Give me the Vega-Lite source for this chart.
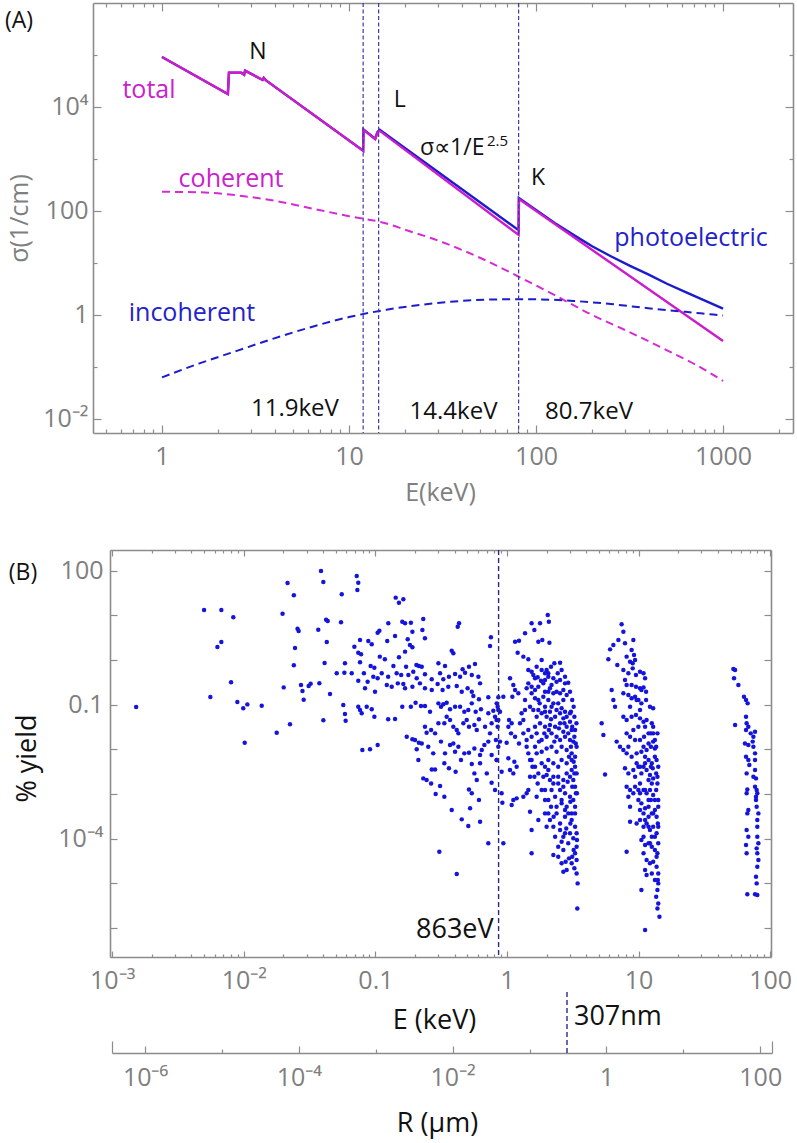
{
  "$schema": "https://vega.github.io/schema/vega-lite/v6.json",
  "width": 700,
  "height": 954,
  "autosize": "none",
  "padding": {"left": 93, "top": 3, "right": 4, "bottom": 186},
  "background": "white",
  "config": {
    "view": {"stroke": null},
    "font": "Open Sans",
    "text": {"font": "Open Sans"},
    "axis": {"domainColor": "#8c8c8c", "domainWidth": 1.6, "tickColor": "#8c8c8c", "tickWidth": 1.2, "labelColor": "#7f7f7f", "labelFont": "Open Sans", "labelFontSize": 25, "titleFont": "Open Sans", "titleFontWeight": "normal", "grid": false, "labelOverlap": false, "labelFlush": false, "labelBound": false}
  },
  "datasets": {
    "curves": [
      {"s":"photoelectric","E":1,"v":91200},{"s":"photoelectric","E":2.25,"v":17800},{"s":"photoelectric","E":2.28,"v":45700},{"s":"photoelectric","E":2.65,"v":45700},{"s":"photoelectric","E":2.75,"v":41700},{"s":"photoelectric","E":2.78,"v":50100},{"s":"photoelectric","E":3.45,"v":33100},{"s":"photoelectric","E":3.5,"v":36300},{"s":"photoelectric","E":3.6,"v":32400},{"s":"photoelectric","E":11.9,"v":1445},{"s":"photoelectric","E":11.95,"v":3715},{"s":"photoelectric","E":13.8,"v":2455},{"s":"photoelectric","E":14.2,"v":3311},{"s":"photoelectric","E":14.6,"v":3631},{"s":"photoelectric","E":80.7,"v":42.7},{"s":"photoelectric","E":81,"v":178},{"s":"photoelectric","E":125.9,"v":58.9},{"s":"photoelectric","E":158.5,"v":34.7},{"s":"photoelectric","E":199.5,"v":20.9},{"s":"photoelectric","E":251.2,"v":13.5},{"s":"photoelectric","E":316.2,"v":8.91},{"s":"photoelectric","E":398.1,"v":6.03},{"s":"photoelectric","E":501.2,"v":3.98},{"s":"photoelectric","E":631,"v":2.75},{"s":"photoelectric","E":794.3,"v":1.91},{"s":"photoelectric","E":1000,"v":1.32},
      {"s":"total","E":1,"v":91200},{"s":"total","E":2.25,"v":17800},{"s":"total","E":2.28,"v":45700},{"s":"total","E":2.65,"v":45700},{"s":"total","E":2.75,"v":41700},{"s":"total","E":2.78,"v":50100},{"s":"total","E":3.45,"v":33100},{"s":"total","E":3.5,"v":36300},{"s":"total","E":3.6,"v":32400},{"s":"total","E":11.9,"v":1445},{"s":"total","E":11.95,"v":3631},{"s":"total","E":13.8,"v":2399},{"s":"total","E":14.2,"v":3236},{"s":"total","E":14.6,"v":3467},{"s":"total","E":80.7,"v":34.7},{"s":"total","E":81,"v":170},{"s":"total","E":1000,"v":0.316},
      {"s":"coherent","E":1,"v":234},{"s":"coherent","E":1.585,"v":229},{"s":"coherent","E":2.512,"v":200},{"s":"coherent","E":3.981,"v":158},{"s":"coherent","E":6.31,"v":112},{"s":"coherent","E":10,"v":79.4},{"s":"coherent","E":15.85,"v":57.5},{"s":"coherent","E":19.95,"v":43.7},{"s":"coherent","E":31.62,"v":25.1},{"s":"coherent","E":50.12,"v":12.6},{"s":"coherent","E":79.43,"v":5.62},{"s":"coherent","E":125.9,"v":2.4},{"s":"coherent","E":199.5,"v":1.0},{"s":"coherent","E":316.2,"v":0.468},{"s":"coherent","E":501.2,"v":0.209},{"s":"coherent","E":794.3,"v":0.0891},{"s":"coherent","E":1000,"v":0.0537},
      {"s":"incoherent","E":1,"v":0.0631},{"s":"incoherent","E":1.585,"v":0.117},{"s":"incoherent","E":2.512,"v":0.204},{"s":"incoherent","E":3.981,"v":0.355},{"s":"incoherent","E":6.31,"v":0.589},{"s":"incoherent","E":10,"v":0.912},{"s":"incoherent","E":15.85,"v":1.26},{"s":"incoherent","E":25.12,"v":1.585},{"s":"incoherent","E":39.81,"v":1.862},{"s":"incoherent","E":63.1,"v":1.995},{"s":"incoherent","E":100,"v":1.995},{"s":"incoherent","E":158.5,"v":1.862},{"s":"incoherent","E":251.2,"v":1.622},{"s":"incoherent","E":398.1,"v":1.349},{"s":"incoherent","E":631,"v":1.148},{"s":"incoherent","E":1000,"v":0.977}
    ],
    "edges": [{"E": 11.9}, {"E": 14.4}, {"E": 80.7}],
    "notesA": [
      {"t":"N","E":3.26,"v":114000,"k":"edge"},
      {"t":"L","E":18.7,"v":13700,"k":"edge"},
      {"t":"K","E":102.5,"v":431,"k":"edge"},
      {"t":"11.9keV","E":5.14,"v":0.01556,"k":"energy"},
      {"t":"14.4keV","E":36.2,"v":0.01364,"k":"energy"},
      {"t":"80.7keV","E":192,"v":0.01364,"k":"energy"},
      {"t":"total","E":0.852,"v":21200,"k":"magenta"},
      {"t":"coherent","E":2.34,"v":412,"k":"magenta"},
      {"t":"photoelectric","E":674,"v":30.3,"k":"blue"},
      {"t":"incoherent","E":1.447,"v":1.093,"k":"blue"},
      {"t":"σ∝1/E","E":23.97,"v":1622,"k":"formula"},
      {"t":"2.5","E":54.7,"v":2218,"k":"exponent"},
      {"t":"(A)","E":0.172,"v":450000,"k":"panel"}
    ],
    "yieldData": [
      {"E":0.00152,"y":0.0887},{"E":0.00499,"y":13.2},{"E":0.00675,"y":13.2},{"E":0.00832,"y":9.02},{"E":0.0063,"y":1.95},{"E":0.00675,"y":2.53},{"E":0.00557,"y":0.149},{"E":0.008,"y":0.316},{"E":0.00893,"y":0.115},{"E":0.0099,"y":0.0828},{"E":0.01064,"y":0.1016},{"E":0.01368,"y":0.0951},{"E":0.01016,"y":0.0141},{"E":0.01778,"y":0.0236},{"E":0.02244,"y":0.0363},{"E":0.0201,"y":0.244},{"E":0.0197,"y":10.9},{"E":0.0215,"y":53.0},{"E":0.024,"y":28.1},{"E":0.0256,"y":5.02},{"E":0.0261,"y":4.46},{"E":0.0245,"y":1.86},{"E":0.024,"y":0.76},{"E":0.0272,"y":0.275},{"E":0.0279,"y":0.202},{"E":0.0285,"y":0.129},{"E":0.0311,"y":0.262},{"E":0.0322,"y":0.295},{"E":0.0375,"y":0.301},{"E":0.0386,"y":98.4},{"E":0.0402,"y":55.7},{"E":0.0368,"y":4.78},{"E":0.0402,"y":0.0446},{"E":0.0411,"y":0.857},{"E":0.0422,"y":8.0},{"E":0.0427,"y":2.53},
      {"E":0.0721,"y":76.0},{"E":0.0741,"y":53.9},{"E":0.0729,"y":36.9},{"E":0.0555,"y":29.5},{"E":0.1426,"y":24.9},{"E":0.151,"y":19.2},{"E":0.163,"y":22.8},{"E":0.0434,"y":7.47},{"E":0.0548,"y":6.97},{"E":0.1253,"y":6.62},{"E":0.16,"y":7.21},{"E":0.168,"y":6.62},{"E":0.186,"y":6.85},{"E":0.231,"y":8.28},{"E":0.432,"y":6.62},{"E":0.422,"y":5.57},{"E":0.1072,"y":4.54},{"E":0.104,"y":4.09},{"E":0.141,"y":3.45},{"E":0.191,"y":4.31},{"E":0.2275,"y":4.7},{"E":0.238,"y":3.06},{"E":0.0764,"y":2.8},{"E":0.0883,"y":2.66},{"E":0.0938,"y":2.24},{"E":0.123,"y":2.66},{"E":0.176,"y":2.9},{"E":0.183,"y":2.17},{"E":0.191,"y":1.92},{"E":0.755,"y":3.22},{"E":0.743,"y":2.06},{"E":0.0692,"y":1.99},{"E":0.0741,"y":1.46},{"E":0.0778,"y":1.34},{"E":0.38,"y":1.62},{"E":0.391,"y":1.41},{"E":0.168,"y":1.54},{"E":0.108,"y":1.19},{"E":0.118,"y":1.04},{"E":0.151,"y":1.15},{"E":0.137,"y":0.734},{"E":0.205,"y":0.773},{"E":0.214,"y":0.734},{"E":0.225,"y":0.709},{"E":0.301,"y":0.842},{"E":0.338,"y":0.734},{"E":0.46,"y":0.618},{"E":0.514,"y":0.709},{"E":0.571,"y":0.813},{"E":0.0587,"y":0.842},{"E":0.0508,"y":0.503},{"E":0.0581,"y":0.52},{"E":0.0661,"y":0.503},{"E":0.0764,"y":0.887},{"E":0.092,"y":0.734},{"E":0.0982,"y":0.673},{"E":0.0818,"y":0.503},{"E":0.0964,"y":0.424},{"E":0.104,"y":0.389},{"E":0.0873,"y":0.327},{"E":0.1117,"y":0.503},{"E":0.125,"y":0.424},{"E":0.145,"y":0.503},{"E":0.157,"y":0.461},{"E":0.171,"y":0.709},{"E":0.178,"y":0.461},{"E":0.194,"y":0.548},{"E":0.206,"y":0.389},{"E":0.238,"y":0.478},{"E":0.268,"y":0.369},{"E":0.31,"y":0.503},{"E":0.328,"y":0.369},{"E":0.362,"y":0.424},{"E":0.403,"y":0.486},{"E":0.44,"y":0.424},{"E":0.48,"y":0.52},{"E":0.54,"y":0.461},{"E":0.606,"y":0.424},{"E":0.624,"y":0.3},{"E":0.0452,"y":0.173},{"E":0.0741,"y":0.344},{"E":0.0834,"y":0.232},{"E":0.0993,"y":0.195},{"E":0.122,"y":0.275},{"E":0.133,"y":0.253},{"E":0.148,"y":0.3},{"E":0.163,"y":0.29},{"E":0.168,"y":0.232},{"E":0.191,"y":0.253},{"E":0.218,"y":0.3},{"E":0.238,"y":0.232},{"E":0.268,"y":0.213},{"E":0.297,"y":0.29},{"E":0.324,"y":0.213},{"E":0.358,"y":0.253},{"E":0.415,"y":0.262},{"E":0.453,"y":0.195},{"E":0.502,"y":0.232},{"E":0.54,"y":0.195},{"E":0.555,"y":0.156},{"E":0.612,"y":0.132},{"E":0.721,"y":0.146},{"E":0.859,"y":0.146},{"E":0.057,"y":0.0984},{"E":0.0587,"y":0.0618},{"E":0.0594,"y":0.0438},{"E":0.0741,"y":0.0902},{"E":0.0764,"y":0.076},{"E":0.0787,"y":0.064},{"E":0.0859,"y":0.0902},{"E":0.0938,"y":0.0787},{"E":0.0982,"y":0.0538},{"E":0.125,"y":0.047},{"E":0.141,"y":0.0478},{"E":0.16,"y":0.0902},{"E":0.186,"y":0.0902},{"E":0.202,"y":0.111},{"E":0.222,"y":0.0933},{"E":0.238,"y":0.0933},{"E":0.26,"y":0.0697},{"E":0.301,"y":0.107},{"E":0.315,"y":0.0902},{"E":0.328,"y":0.102},{"E":0.348,"y":0.111},{"E":0.369,"y":0.0787},{"E":0.403,"y":0.0902},{"E":0.44,"y":0.0902},{"E":0.474,"y":0.0697},{"E":0.508,"y":0.076},{"E":0.54,"y":0.107},{"E":0.578,"y":0.0697},{"E":0.634,"y":0.0787},{"E":0.721,"y":0.064},{"E":0.787,"y":0.0734},{"E":0.849,"y":0.0902},{"E":0.885,"y":0.0697},{"E":0.173,"y":0.0192},{"E":0.191,"y":0.0168},{"E":0.2,"y":0.0162},{"E":0.214,"y":0.0141},{"E":0.238,"y":0.0321},{"E":0.245,"y":0.0236},{"E":0.265,"y":0.0271},{"E":0.284,"y":0.0228},{"E":0.301,"y":0.0382},{"E":0.334,"y":0.0382},{"E":0.348,"y":0.0538},{"E":0.369,"y":0.0454},{"E":0.391,"y":0.0321},{"E":0.415,"y":0.0271},{"E":0.427,"y":0.0228},{"E":0.466,"y":0.0382},{"E":0.494,"y":0.0454},{"E":0.514,"y":0.0321},{"E":0.565,"y":0.0351},{"E":0.589,"y":0.0271},{"E":0.612,"y":0.047},{"E":0.681,"y":0.0321},{"E":0.743,"y":0.0228},{"E":0.764,"y":0.0382},{"E":0.834,"y":0.0454},{"E":0.0796,"y":0.00966},{"E":0.091,"y":0.01},{"E":0.104,"y":0.0125},{"E":0.206,"y":0.01},{"E":0.212,"y":0.00577},{"E":0.225,"y":0.0136},{"E":0.252,"y":0.0115},{"E":0.275,"y":0.00813},{"E":0.315,"y":0.0149},{"E":0.338,"y":0.00813},{"E":0.369,"y":0.0125},{"E":0.391,"y":0.0136},{"E":0.403,"y":0.00887},{"E":0.427,"y":0.0115},{"E":0.447,"y":0.00577},{"E":0.474,"y":0.00813},{"E":0.514,"y":0.00841},{"E":0.565,"y":0.0105},{"E":0.624,"y":0.00746},{"E":0.673,"y":0.0125},{"E":0.721,"y":0.0149},{"E":0.764,"y":0.00746},{"E":0.834,"y":0.00577},{"E":0.231,"y":0.00224},{"E":0.245,"y":0.00206},{"E":0.268,"y":0.00356},{"E":0.284,"y":0.00356},{"E":0.265,"y":0.00173},{"E":0.31,"y":0.00151},{"E":0.334,"y":0.00486},{"E":0.362,"y":0.00376},{"E":0.407,"y":0.00316},{"E":0.54,"y":0.0047},{"E":0.565,"y":0.0029},{"E":0.589,"y":0.00206},{"E":0.624,"y":0.00486},{"E":0.643,"y":0.00966},{"E":0.702,"y":0.0029},{"E":0.764,"y":0.00179},{"E":0.811,"y":0.00123},{"E":0.287,"y":0.001},{"E":0.334,"y":0.000871},{"E":0.38,"y":0.000439},{"E":0.453,"y":0.000271},{"E":0.514,"y":0.00127},{"E":0.54,"y":0.00104},{"E":0.524,"y":0.000478},{"E":0.612,"y":0.000734},{"E":0.624,"y":0.00024},{"E":0.508,"y":0.000192},{"E":0.721,"y":0.0000787},{"E":0.306,"y":0.0000512},{"E":0.415,"y":0.0000162},
      {"E":0.835,"y":0.107},{"E":0.859,"y":0.076},{"E":0.811,"y":0.0538},{"E":0.859,"y":0.0454},{"E":0.849,"y":0.0321},{"E":0.824,"y":0.0162},{"E":0.885,"y":0.0149},{"E":0.859,"y":0.0115},{"E":0.835,"y":0.00577},{"E":0.938,"y":0.151},{"E":0.91,"y":0.00316},{"E":0.91,"y":0.00104},{"E":0.922,"y":0.00064},{"E":1.054,"y":0.389},{"E":1.117,"y":0.275},{"E":1.151,"y":0.213},{"E":1.098,"y":0.151},{"E":1.219,"y":0.18},{"E":1.036,"y":0.0454},{"E":1.085,"y":0.0382},{"E":1.024,"y":0.0321},{"E":1.073,"y":0.0228},{"E":0.994,"y":0.0141},{"E":1.151,"y":0.0192},{"E":1.233,"y":0.0136},{"E":1.256,"y":0.0382},{"E":1.291,"y":0.064},{"E":1.371,"y":0.076},{"E":1.496,"y":0.0902},{"E":1.024,"y":0.00629},{"E":1.054,"y":0.00345},{"E":1.117,"y":0.0029},{"E":1.137,"y":0.0053},{"E":1.184,"y":0.00409},{"E":1.085,"y":0.000567},{"E":1.117,"y":0.000734},{"E":1.184,"y":0.0008},{"E":1.331,"y":0.000871},{"E":1.41,"y":0.00104},{"E":1.452,"y":0.00123},{"E":1.496,"y":0.00244},{"E":0.938,"y":0.0000787},{"E":1.151,"y":2.57},{"E":1.233,"y":2.71},{"E":1.205,"y":1.46},{"E":1.331,"y":1.19},{"E":1.452,"y":1.04},{"E":1.371,"y":3.95},{"E":1.538,"y":6.62},{"E":1.614,"y":4.7},{"E":1.73,"y":2.57},{"E":1.782,"y":6.62},{"E":1.854,"y":2.8},{"E":2.04,"y":10.2},{"E":2.08,"y":7.21},{"E":2.1,"y":2.44},{"E":1.452,"y":0.597},{"E":1.538,"y":0.548},{"E":1.68,"y":0.709},{"E":1.834,"y":0.597},{"E":1.945,"y":0.503},{"E":2.06,"y":0.503},{"E":2.16,"y":0.709},{"E":2.29,"y":0.842},{"E":2.53,"y":0.871},{"E":2.25,"y":0.389},{"E":2.38,"y":0.327},{"E":2.53,"y":0.356},{"E":2.76,"y":0.3},{"E":2.92,"y":0.311},{"E":1.452,"y":0.3},{"E":1.538,"y":0.253},{"E":1.633,"y":0.213},{"E":1.73,"y":0.253},{"E":1.888,"y":0.3},{"E":1.945,"y":0.195},{"E":2.12,"y":0.232},{"E":2.25,"y":0.18},{"E":2.38,"y":0.195},{"E":2.53,"y":0.18},{"E":2.68,"y":0.127},{"E":2.45,"y":0.107},{"E":2.25,"y":0.107},{"E":2.06,"y":0.127},{"E":1.888,"y":0.151},{"E":1.73,"y":0.127},{"E":1.585,"y":0.076},{"E":1.68,"y":0.0538},{"E":1.834,"y":0.064},{"E":2.0,"y":0.0538},{"E":2.12,"y":0.0697},{"E":2.32,"y":0.0538},{"E":2.53,"y":0.064},{"E":2.68,"y":0.0494},{"E":2.84,"y":0.0538},{"E":3.01,"y":0.0416},{"E":2.53,"y":0.0382},{"E":2.32,"y":0.0321},{"E":2.12,"y":0.0351},{"E":1.945,"y":0.0321},{"E":1.782,"y":0.0382},{"E":1.633,"y":0.0321},{"E":1.538,"y":0.0192},{"E":1.68,"y":0.0228},{"E":1.834,"y":0.0162},{"E":2.0,"y":0.0192},{"E":2.18,"y":0.0228},{"E":2.38,"y":0.0192},{"E":2.53,"y":0.0162},{"E":2.76,"y":0.0192},{"E":3.01,"y":0.0162},{"E":3.19,"y":0.0149},{"E":2.6,"y":0.0115},{"E":2.84,"y":0.00966},{"E":3.1,"y":0.00813},{"E":3.29,"y":0.00686},{"E":2.38,"y":0.00887},{"E":2.18,"y":0.0115},{"E":2.0,"y":0.0105},{"E":1.834,"y":0.00887},{"E":1.68,"y":0.00813},{"E":1.834,"y":0.00486},{"E":1.945,"y":0.00409},{"E":2.06,"y":0.00577},{"E":2.25,"y":0.00486},{"E":2.45,"y":0.00409},{"E":2.6,"y":0.00577},{"E":2.84,"y":0.00486},{"E":3.1,"y":0.00577},{"E":3.29,"y":0.00409},{"E":2.0,"y":0.00266},{"E":2.12,"y":0.00206},{"E":2.25,"y":0.00244},{"E":2.45,"y":0.00173},{"E":2.68,"y":0.00206},{"E":2.84,"y":0.0029},{"E":3.01,"y":0.00244},{"E":3.19,"y":0.00206},{"E":3.29,"y":0.00146},{"E":2.53,"y":0.00123},{"E":2.76,"y":0.00104},{"E":3.01,"y":0.000871},{"E":3.19,"y":0.000734},{"E":3.29,"y":0.00052},{"E":2.18,"y":0.00123},{"E":2.32,"y":0.000871},{"E":2.06,"y":0.000369},{"E":2.12,"y":0.000262},{"E":2.25,"y":0.000186},{"E":2.53,"y":0.00022},{"E":2.76,"y":0.000311},{"E":2.92,"y":0.000369},{"E":3.1,"y":0.000262},{"E":3.29,"y":0.000186},{"E":3.38,"y":0.000132},{"E":3.19,"y":0.000102},{"E":2.92,"y":0.0000787},{"E":2.68,"y":0.0000557},{"E":2.45,"y":0.0000395},{"E":2.6,"y":0.0000281},{"E":2.68,"y":0.0000182},{"E":2.84,"y":0.0000199},{"E":3.1,"y":0.0000281},{"E":3.29,"y":0.000047},{"E":3.38,"y":0.0000333},{"E":3.38,"y":0.0000167},{"E":3.44,"y":0.00001},{"E":3.42,"y":0.00000275},{"E":1.496,"y":0.000402},{"E":1.538,"y":0.000156},{"E":1.538,"y":0.000047},{"E":1.73,"y":0.000262},{"E":1.945,"y":0.000369},{"E":2.0,"y":0.000186},{"E":2.25,"y":0.0000431},{"E":1.68,"y":0.000871},{"E":5.24,"y":0.0382},{"E":5.4,"y":0.0209},{"E":5.56,"y":0.00275},
      {"E":3.29,"y":0.0271},{"E":3.33,"y":0.0136},{"E":3.25,"y":0.0029},{"E":3.34,"y":0.00104},{"E":3.1,"y":0.000369},{"E":3.38,"y":0.0000662},{"E":3.13,"y":0.0000395},{"E":3.01,"y":0.000132},{"E":2.76,"y":0.000132},{"E":2.6,"y":0.0000857},{"E":2.38,"y":0.00052},{"E":2.6,"y":0.000618},{"E":2.84,"y":0.00052},{"E":2.06,"y":0.000734},{"E":1.945,"y":0.00123},{"E":1.888,"y":0.00244},{"E":1.73,"y":0.0029},{"E":1.633,"y":0.00409},{"E":1.496,"y":0.00577},{"E":1.41,"y":0.0115},{"E":1.331,"y":0.0228},{"E":1.452,"y":0.0271},{"E":1.73,"y":0.076},{"E":1.945,"y":0.0902},{"E":2.18,"y":0.0902},{"E":2.38,"y":0.076},{"E":2.6,"y":0.0828},{"E":2.76,"y":0.0697},{"E":3.01,"y":0.064},{"E":3.1,"y":0.0271},{"E":2.84,"y":0.0321},{"E":2.68,"y":0.0249},{"E":2.06,"y":0.424},{"E":1.945,"y":0.356},{"E":1.834,"y":1.0},{"E":1.633,"y":0.389},{"E":2.68,"y":0.213},{"E":2.84,"y":0.164},{"E":2.06,"y":0.195},
      {"E":1.585,"y":0.461},{"E":1.71,"y":0.409},{"E":1.812,"y":0.344},{"E":2.0,"y":0.597},{"E":2.18,"y":0.275},{"E":2.43,"y":0.503},{"E":2.6,"y":0.597},{"E":2.76,"y":0.424},{"E":3.01,"y":0.195},{"E":3.13,"y":0.127},{"E":3.21,"y":0.0902},{"E":3.06,"y":0.0697},{"E":3.25,"y":0.0538},{"E":3.37,"y":0.0382},{"E":3.13,"y":0.0321},{"E":2.92,"y":0.0228},{"E":3.25,"y":0.0192},{"E":3.38,"y":0.0115},{"E":3.06,"y":0.0115},{"E":2.96,"y":0.00686},{"E":3.21,"y":0.0053},{"E":3.38,"y":0.0029},{"E":3.1,"y":0.00345},{"E":2.89,"y":0.00189},{"E":3.13,"y":0.00146},{"E":3.4,"y":0.00104},{"E":3.03,"y":0.000673},{"E":3.29,"y":0.000369},{"E":3.03,"y":0.00022},{"E":2.82,"y":0.00017},{"E":3.4,"y":0.0000933},{"E":3.21,"y":0.0000557},{"E":2.96,"y":0.0000363},{"E":3.25,"y":0.0000217},{"E":2.79,"y":0.0000305},{"E":2.45,"y":0.0000662},{"E":2.32,"y":0.000111},{"E":2.16,"y":0.00052},{"E":2.26,"y":0.000311},{"E":1.945,"y":0.000734},{"E":1.834,"y":0.00123},{"E":1.71,"y":0.00173},{"E":1.614,"y":0.00244},{"E":1.56,"y":0.00409},{"E":1.633,"y":0.0115},{"E":1.75,"y":0.0149},{"E":1.921,"y":0.0228},{"E":2.08,"y":0.0271},{"E":2.29,"y":0.0149},{"E":2.48,"y":0.0295},{"E":2.73,"y":0.0382},{"E":2.16,"y":0.047},{"E":1.945,"y":0.0697},{"E":1.771,"y":0.107},{"E":1.633,"y":0.139},{"E":1.538,"y":0.18},{"E":1.41,"y":0.232},{"E":1.371,"y":0.127},{"E":1.331,"y":0.0454},{"E":1.41,"y":0.0162},{"E":1.452,"y":0.00813},{"E":1.538,"y":0.00577},{"E":2.06,"y":0.00345},{"E":2.25,"y":0.00173},{"E":2.45,"y":0.00244},{"E":2.68,"y":0.00146},{"E":2.6,"y":0.000734},{"E":2.38,"y":0.000369},{"E":2.76,"y":0.000439},{"E":2.53,"y":0.000156},{"E":2.68,"y":0.000111},
      {"E":7.43,"y":6.29},{"E":7.66,"y":4.31},{"E":9.12,"y":2.8},{"E":7.88,"y":2.36},{"E":8.85,"y":1.67},{"E":9.23,"y":1.29},{"E":8.11,"y":1.19},{"E":8.61,"y":0.918},{"E":9.02,"y":0.842},{"E":9.4,"y":1.0},{"E":7.66,"y":0.597},{"E":8.36,"y":0.503},{"E":9.02,"y":0.65},{"E":9.55,"y":0.461},{"E":10.25,"y":0.548},{"E":10.9,"y":0.503},{"E":11.2,"y":0.389},{"E":7.88,"y":0.356},{"E":8.11,"y":0.275},{"E":8.85,"y":0.275},{"E":9.55,"y":0.253},{"E":10.25,"y":0.232},{"E":10.9,"y":0.244},{"E":11.4,"y":0.195},{"E":7.66,"y":0.18},{"E":8.36,"y":0.164},{"E":8.85,"y":0.139},{"E":9.4,"y":0.151},{"E":9.96,"y":0.127},{"E":10.5,"y":0.107},{"E":11.4,"y":0.127},{"E":12.2,"y":0.0902},{"E":12.9,"y":0.0828},{"E":7.66,"y":0.0538},{"E":8.11,"y":0.0454},{"E":8.85,"y":0.0538},{"E":9.55,"y":0.0587},{"E":10.25,"y":0.0494},{"E":10.9,"y":0.0416},{"E":11.5,"y":0.0454},{"E":12.6,"y":0.0382},{"E":12.9,"y":0.0321},{"E":8.11,"y":0.0228},{"E":8.61,"y":0.0192},{"E":9.4,"y":0.0162},{"E":10.25,"y":0.0162},{"E":11.0,"y":0.0192},{"E":11.9,"y":0.0136},{"E":12.9,"y":0.0149},{"E":13.3,"y":0.0105},{"E":7.22,"y":0.0115},{"E":7.66,"y":0.00966},{"E":8.11,"y":0.00813},{"E":8.85,"y":0.00686},{"E":9.66,"y":0.00813},{"E":10.5,"y":0.00887},{"E":11.2,"y":0.00686},{"E":11.9,"y":0.00577},{"E":12.6,"y":0.00486},{"E":13.3,"y":0.00686},{"E":7.88,"y":0.00376},{"E":8.36,"y":0.0029},{"E":9.12,"y":0.00345},{"E":9.96,"y":0.00409},{"E":10.5,"y":0.0029},{"E":11.5,"y":0.00345},{"E":12.2,"y":0.00266},{"E":12.9,"y":0.00224},{"E":13.6,"y":0.0029},{"E":8.11,"y":0.00146},{"E":8.61,"y":0.00123},{"E":9.4,"y":0.00146},{"E":10.25,"y":0.00173},{"E":10.9,"y":0.00123},{"E":11.5,"y":0.00104},{"E":12.2,"y":0.00123},{"E":12.9,"y":0.00095},{"E":13.6,"y":0.00123},{"E":8.36,"y":0.000871},{"E":8.61,"y":0.00052},{"E":9.96,"y":0.000734},{"E":10.5,"y":0.000618},{"E":11.2,"y":0.000478},{"E":11.9,"y":0.00052},{"E":12.6,"y":0.000369},{"E":13.3,"y":0.000439},{"E":13.7,"y":0.000311},{"E":8.61,"y":0.00024},{"E":10.25,"y":0.000262},{"E":10.9,"y":0.000186},{"E":11.5,"y":0.00022},{"E":12.2,"y":0.000156},{"E":12.9,"y":0.000186},{"E":13.7,"y":0.000132},{"E":10.5,"y":0.0000933},{"E":11.2,"y":0.0000721},{"E":11.9,"y":0.0000787},{"E":12.6,"y":0.0000662},{"E":13.3,"y":0.0000557},{"E":13.9,"y":0.000047},{"E":8.11,"y":0.0000512},{"E":10.9,"y":0.000047},{"E":11.5,"y":0.0000333},{"E":12.2,"y":0.0000281},{"E":12.9,"y":0.0000305},{"E":13.7,"y":0.0000236},{"E":14.1,"y":0.0000167},{"E":11.2,"y":0.0000199},{"E":11.5,"y":0.0000154},{"E":13.3,"y":0.0000119},{"E":13.9,"y":0.0000071},{"E":10.5,"y":0.0000071},{"E":13.6,"y":0.00000502},{"E":14.1,"y":0.00000356},{"E":13.9,"y":0.00000275},{"E":14.4,"y":0.00000179},{"E":11.2,"y":0.000000902},
      {"E":13.9,"y":0.0228},{"E":13.6,"y":0.0115},{"E":14.1,"y":0.00409},{"E":13.9,"y":0.00173},{"E":14.1,"y":0.000734},{"E":14.0,"y":0.00022},{"E":14.1,"y":0.0000787},{"E":14.0,"y":0.0000119},{"E":12.6,"y":0.000111},{"E":11.9,"y":0.000311},{"E":12.4,"y":0.000734},{"E":12.4,"y":0.00409},{"E":12.4,"y":0.0115},{"E":12.4,"y":0.0228},{"E":10.9,"y":0.00409},{"E":10.9,"y":0.0115},{"E":10.9,"y":0.000369},{"E":10.25,"y":0.00104},{"E":10.25,"y":0.00409},
      {"E":12.9,"y":0.0228},{"E":13.3,"y":0.0162},{"E":13.7,"y":0.00577},{"E":12.8,"y":0.00376},{"E":13.9,"y":0.00244},{"E":12.6,"y":0.00173},{"E":13.3,"y":0.000734},{"E":14.1,"y":0.00052},{"E":12.9,"y":0.000369},{"E":14.1,"y":0.000186},{"E":13.3,"y":0.000111},{"E":12.2,"y":0.0000787},{"E":13.7,"y":0.0000395},{"E":12.6,"y":0.0000167},{"E":14.1,"y":0.00001},{"E":11.2,"y":0.0321},{"E":11.9,"y":0.0228},{"E":11.5,"y":0.00966},{"E":11.2,"y":0.00486},{"E":11.9,"y":0.00206},{"E":11.2,"y":0.00123},{"E":11.9,"y":0.000734},{"E":11.2,"y":0.000262},{"E":11.9,"y":0.000186},{"E":10.9,"y":0.000111},{"E":10.25,"y":0.076},{"E":9.66,"y":0.127},{"E":9.96,"y":0.0321},{"E":9.12,"y":0.0271},{"E":9.66,"y":0.00486},{"E":9.4,"y":0.00244},{"E":9.96,"y":0.00123},{"E":9.12,"y":0.00104},{"E":10.25,"y":0.000439},{"E":9.66,"y":0.00022},{"E":8.61,"y":0.0902},{"E":8.36,"y":0.0115},{"E":10.5,"y":0.213},
      {"E":7.02,"y":2.8},{"E":6.43,"y":2.17},{"E":6.07,"y":1.73},{"E":5.89,"y":1.04},{"E":6.24,"y":0.213},{"E":6.43,"y":0.127},{"E":6.62,"y":0.0902},{"E":6.81,"y":0.0149},{"E":6.89,"y":0.773},
      {"E":52.5,"y":0.629},{"E":54.1,"y":0.597},{"E":53.1,"y":0.389},{"E":57.3,"y":0.275},{"E":63.2,"y":0.151},{"E":65.5,"y":0.127},{"E":67.4,"y":0.107},{"E":54.1,"y":0.0351},{"E":65.5,"y":0.0538},{"E":66.2,"y":0.0382},{"E":68.2,"y":0.0321},{"E":71.1,"y":0.0228},{"E":74.5,"y":0.0192},{"E":64.3,"y":0.0136},{"E":68.2,"y":0.0125},{"E":74.5,"y":0.0115},{"E":65.5,"y":0.00686},{"E":68.2,"y":0.00577},{"E":69.4,"y":0.00446},{"E":76.7,"y":0.00577},{"E":66.2,"y":0.0029},{"E":74.5,"y":0.00244},{"E":67.0,"y":0.00127},{"E":76.7,"y":0.00146},{"E":78.9,"y":0.00123},{"E":79.8,"y":0.00104},{"E":78.0,"y":0.000734},{"E":68.2,"y":0.000439},{"E":67.0,"y":0.000369},{"E":78.9,"y":0.00052},{"E":81.3,"y":0.000369},{"E":79.8,"y":0.000262},{"E":79.8,"y":0.000186},{"E":66.2,"y":0.000156},{"E":68.2,"y":0.000111},{"E":79.8,"y":0.000111},{"E":81.3,"y":0.0000787},{"E":66.2,"y":0.000047},{"E":79.8,"y":0.000047},{"E":81.3,"y":0.0000333},{"E":79.8,"y":0.0000236},{"E":78.0,"y":0.0000141},{"E":78.9,"y":0.00001},{"E":67.0,"y":0.00000568},{"E":76.7,"y":0.00000568},{"E":79.8,"y":0.00000548},{"E":65.5,"y":0.0000721},{"E":76.7,"y":0.00345},{"E":78.0,"y":0.00224},{"E":65.5,"y":0.0271},{"E":76.7,"y":0.00813},{"E":78.0,"y":0.000871},{"E":78.9,"y":0.0000608},{"E":66.2,"y":0.00104},{"E":73.6,"y":0.0149},{"E":76.7,"y":0.0249}
    ],
    "marker": [{"E": 0.863, "t": "863eV", "y": 9.05e-7}],
    "panelB": [{"E": 0.00021, "y": 88.9, "t": "(B)"}],
    "depth": [{"R": 0.307, "t": "307nm"}]
  },
  "layer": [
    {
      "resolve": {"axis": {"x": "independent", "y": "independent"}},
      "layer": [
        {
          "data": {"name": "curves"},
          "transform": [{"filter": "datum.s == 'photoelectric'"}],
          "mark": {"type": "line", "color": "#1c1ccc", "strokeWidth": 2.4},
          "encoding": {
            "x": {"field": "E", "type": "quantitative", "scale": {"type": "log", "domain": [0.4276, 2366], "range": [0, 700], "nice": false},
              "axis": {"orient": "bottom", "offset": -524, "values": [0.5,0.6,0.7,0.8,0.9,1,2,3,4,5,6,7,8,9,10,20,30,40,50,60,70,80,90,100,200,300,400,500,600,700,800,900,1000,2000],
                "labelExpr": "datum.value == 1 ? '1' : datum.value == 10 ? '10' : datum.value == 100 ? '100' : datum.value == 1000 ? '1000' : ''",
                "tickSize": {"condition": {"test": "indexof([1,10,100,1000], datum.value) >= 0", "value": -8}, "value": -4},
                "labelPadding": 31, "labelBaseline": "middle",
                "title": "E(keV)", "titleX": 347, "titleY": 59, "titleBaseline": "middle", "titleAlign": "center", "titleColor": "#7f7f7f", "titleFontSize": 25}},
            "y": {"field": "v", "type": "quantitative", "scale": {"type": "log", "domain": [0.00537, 1000000], "range": [430, 0], "nice": false},
              "axis": {"orient": "left", "values": [0.01,0.1,1,10,100,1000,10000,100000],
                "labelExpr": "datum.value == 0.01 ? '10⁻²' : datum.value == 1 ? '1' : datum.value == 100 ? '100' : datum.value == 10000 ? '10⁴' : ''",
                "tickSize": {"condition": {"test": "indexof([0.01,1,100,10000], datum.value) >= 0", "value": -8}, "value": -4},
                "labelPadding": 13,
                "title": "σ(1/cm)", "titleX": -74, "titleY": 215, "titleAngle": -90, "titleBaseline": "middle", "titleAlign": "center", "titleColor": "#7f7f7f", "titleFontSize": 25}}
          }
        },
        {
          "data": {"name": "curves"},
          "transform": [{"filter": "datum.s == 'total'"}],
          "mark": {"type": "line", "color": "#cc1ccc", "strokeWidth": 2.4},
          "encoding": {
            "x": {"field": "E", "type": "quantitative", "scale": {"type": "log", "domain": [0.4276, 2366], "range": [0, 700], "nice": false},
              "axis": {"orient": "top", "values": [0.5,0.6,0.7,0.8,0.9,1,2,3,4,5,6,7,8,9,10,20,30,40,50,60,70,80,90,100,200,300,400,500,600,700,800,900,1000,2000], "labels": false, "title": null,
                "tickSize": {"condition": {"test": "indexof([1,10,100,1000], datum.value) >= 0", "value": -8}, "value": -4}}},
            "y": {"field": "v", "type": "quantitative", "scale": {"type": "log", "domain": [0.00537, 1000000], "range": [430, 0], "nice": false},
              "axis": {"orient": "right", "values": [0.01,0.1,1,10,100,1000,10000,100000], "labels": false, "title": null,
                "tickSize": {"condition": {"test": "indexof([0.01,1,100,10000], datum.value) >= 0", "value": -8}, "value": -4}}}
          }
        },
        {
          "data": {"name": "curves"},
          "transform": [{"filter": "datum.s == 'coherent'"}],
          "mark": {"type": "line", "color": "#d62ad6", "strokeWidth": 2, "strokeDash": [8, 5], "interpolate": "monotone"},
          "encoding": {
            "x": {"field": "E", "type": "quantitative", "scale": {"type": "log", "domain": [0.4276, 2366], "range": [0, 700], "nice": false}, "axis": null},
            "y": {"field": "v", "type": "quantitative", "scale": {"type": "log", "domain": [0.00537, 1000000], "range": [430, 0], "nice": false}, "axis": null}
          }
        },
        {
          "data": {"name": "curves"},
          "transform": [{"filter": "datum.s == 'incoherent'"}],
          "mark": {"type": "line", "color": "#1c1ccc", "strokeWidth": 2, "strokeDash": [8, 5], "interpolate": "monotone"},
          "encoding": {
            "x": {"field": "E", "type": "quantitative", "scale": {"type": "log", "domain": [0.4276, 2366], "range": [0, 700], "nice": false}, "axis": null},
            "y": {"field": "v", "type": "quantitative", "scale": {"type": "log", "domain": [0.00537, 1000000], "range": [430, 0], "nice": false}, "axis": null}
          }
        },
        {
          "data": {"name": "edges"},
          "mark": {"type": "rule", "color": "#3a3aa8", "strokeWidth": 1.2, "strokeDash": [4, 2.5]},
          "encoding": {
            "x": {"field": "E", "type": "quantitative", "scale": {"type": "log", "domain": [0.4276, 2366], "range": [0, 700], "nice": false}, "axis": null},
            "y": {"datum": 1000000, "type": "quantitative", "scale": {"type": "log", "domain": [0.00537, 1000000], "range": [430, 0], "nice": false}, "axis": null},
            "y2": {"datum": 0.00537}
          }
        },
        {
          "data": {"name": "notesA"},
          "transform": [{"filter": "datum.k == 'edge' || datum.k == 'panel'"}],
          "mark": {"type": "text", "fontSize": 23, "color": "#111111", "align": "center", "baseline": "middle"},
          "encoding": {
            "x": {"field": "E", "type": "quantitative", "scale": {"type": "log", "domain": [0.4276, 2366], "range": [0, 700], "nice": false}, "axis": null},
            "y": {"field": "v", "type": "quantitative", "scale": {"type": "log", "domain": [0.00537, 1000000], "range": [430, 0], "nice": false}, "axis": null},
            "text": {"field": "t"}
          }
        },
        {
          "data": {"name": "notesA"},
          "transform": [{"filter": "datum.k == 'energy'"}],
          "mark": {"type": "text", "fontSize": 24, "color": "#111111", "align": "center", "baseline": "middle"},
          "encoding": {
            "x": {"field": "E", "type": "quantitative", "scale": {"type": "log", "domain": [0.4276, 2366], "range": [0, 700], "nice": false}, "axis": null},
            "y": {"field": "v", "type": "quantitative", "scale": {"type": "log", "domain": [0.00537, 1000000], "range": [430, 0], "nice": false}, "axis": null},
            "text": {"field": "t"}
          }
        },
        {
          "data": {"name": "notesA"},
          "transform": [{"filter": "datum.k == 'magenta'"}],
          "mark": {"type": "text", "fontSize": 25, "color": "#cc22cc", "align": "center", "baseline": "middle"},
          "encoding": {
            "x": {"field": "E", "type": "quantitative", "scale": {"type": "log", "domain": [0.4276, 2366], "range": [0, 700], "nice": false}, "axis": null},
            "y": {"field": "v", "type": "quantitative", "scale": {"type": "log", "domain": [0.00537, 1000000], "range": [430, 0], "nice": false}, "axis": null},
            "text": {"field": "t"}
          }
        },
        {
          "data": {"name": "notesA"},
          "transform": [{"filter": "datum.k == 'blue'"}],
          "mark": {"type": "text", "fontSize": 25, "color": "#2222cc", "align": "center", "baseline": "middle"},
          "encoding": {
            "x": {"field": "E", "type": "quantitative", "scale": {"type": "log", "domain": [0.4276, 2366], "range": [0, 700], "nice": false}, "axis": null},
            "y": {"field": "v", "type": "quantitative", "scale": {"type": "log", "domain": [0.00537, 1000000], "range": [430, 0], "nice": false}, "axis": null},
            "text": {"field": "t"}
          }
        },
        {
          "data": {"name": "notesA"},
          "transform": [{"filter": "datum.k == 'formula'"}],
          "mark": {"type": "text", "fontSize": 23, "color": "#111111", "align": "left", "baseline": "middle"},
          "encoding": {
            "x": {"field": "E", "type": "quantitative", "scale": {"type": "log", "domain": [0.4276, 2366], "range": [0, 700], "nice": false}, "axis": null},
            "y": {"field": "v", "type": "quantitative", "scale": {"type": "log", "domain": [0.00537, 1000000], "range": [430, 0], "nice": false}, "axis": null},
            "text": {"field": "t"}
          }
        },
        {
          "data": {"name": "notesA"},
          "transform": [{"filter": "datum.k == 'exponent'"}],
          "mark": {"type": "text", "fontSize": 15, "color": "#111111", "align": "left", "baseline": "middle"},
          "encoding": {
            "x": {"field": "E", "type": "quantitative", "scale": {"type": "log", "domain": [0.4276, 2366], "range": [0, 700], "nice": false}, "axis": null},
            "y": {"field": "v", "type": "quantitative", "scale": {"type": "log", "domain": [0.00537, 1000000], "range": [430, 0], "nice": false}, "axis": null},
            "text": {"field": "t"}
          }
        }
      ]
    },
    {
      "resolve": {"axis": {"x": "independent", "y": "independent"}},
      "layer": [
        {
          "data": {"name": "yieldData"},
          "mark": {"type": "circle", "size": 20, "color": "#1414dc", "opacity": 1},
          "encoding": {
            "x": {"field": "E", "type": "quantitative", "scale": {"type": "log", "domain": [0.000962, 101.4], "range": [17, 678], "nice": false},
              "axis": {"orient": "bottom", "values": [0.001,0.002,0.003,0.004,0.005,0.006,0.007,0.008,0.009,0.01,0.02,0.03,0.04,0.05,0.06,0.07,0.08,0.09,0.1,0.2,0.3,0.4,0.5,0.6,0.7,0.8,0.9,1,2,3,4,5,6,7,8,9,10,20,30,40,50,60,70,80,90,100],
                "labelExpr": "datum.value == 0.001 ? '10⁻³' : datum.value == 0.01 ? '10⁻²' : datum.value == 0.1 ? '0.1' : datum.value == 1 ? '1' : datum.value == 10 ? '10' : datum.value == 100 ? '100' : ''",
                "tickSize": {"condition": {"test": "indexof([0.001,0.01,0.1,1,10,100], datum.value) >= 0", "value": -6}, "value": -3},
                "labelPadding": 29, "labelBaseline": "middle",
                "title": "E (keV)", "titleX": 341, "titleY": 63, "titleBaseline": "middle", "titleAlign": "center", "titleColor": "#111111", "titleFontSize": 27}},
            "y": {"field": "y", "type": "quantitative", "scale": {"type": "log", "domain": [2.25e-7, 290], "range": [954, 547], "nice": false},
              "axis": {"orient": "left", "offset": -17, "values": [0.000001,0.00001,0.0001,0.001,0.01,0.1,1,10,100],
                "labelExpr": "datum.value == 100 ? '100' : datum.value == 0.1 ? '0.1' : datum.value == 0.0001 ? '10⁻⁴' : ''",
                "tickSize": -7, "labelPadding": 14,
                "title": "% yield", "titleX": -83, "titleY": 755, "titleAngle": -90, "titleBaseline": "middle", "titleAlign": "center", "titleColor": "#111111", "titleFontSize": 27}}
          }
        },
        {
          "data": {"name": "marker"},
          "mark": {"type": "rule", "color": "#2a2a88", "strokeWidth": 1.4, "strokeDash": [5, 3]},
          "encoding": {
            "x": {"field": "E", "type": "quantitative", "scale": {"type": "log", "domain": [0.000962, 101.4], "range": [17, 678], "nice": false},
              "axis": {"orient": "top", "offset": -547, "values": [0.001,0.002,0.003,0.004,0.005,0.006,0.007,0.008,0.009,0.01,0.02,0.03,0.04,0.05,0.06,0.07,0.08,0.09,0.1,0.2,0.3,0.4,0.5,0.6,0.7,0.8,0.9,1,2,3,4,5,6,7,8,9,10,20,30,40,50,60,70,80,90,100], "labels": false, "title": null,
                "tickSize": {"condition": {"test": "indexof([0.001,0.01,0.1,1,10,100], datum.value) >= 0", "value": -6}, "value": -3}}},
            "y": {"datum": 290, "type": "quantitative", "scale": {"type": "log", "domain": [2.25e-7, 290], "range": [954, 547], "nice": false},
              "axis": {"orient": "right", "offset": -22, "values": [0.000001,0.00001,0.0001,0.001,0.01,0.1,1,10,100], "labels": false, "title": null, "tickSize": -7}},
            "y2": {"datum": 2.25e-7}
          }
        },
        {
          "data": {"name": "marker"},
          "mark": {"type": "text", "fontSize": 27, "color": "#111111", "align": "right", "baseline": "middle", "dx": -5},
          "encoding": {
            "x": {"field": "E", "type": "quantitative", "scale": {"type": "log", "domain": [0.000962, 101.4], "range": [17, 678], "nice": false}, "axis": null},
            "y": {"field": "y", "type": "quantitative", "scale": {"type": "log", "domain": [2.25e-7, 290], "range": [954, 547], "nice": false}, "axis": null},
            "text": {"field": "t"}
          }
        },
        {
          "data": {"name": "panelB"},
          "mark": {"type": "text", "fontSize": 23, "color": "#111111", "align": "center", "baseline": "middle"},
          "encoding": {
            "x": {"field": "E", "type": "quantitative", "scale": {"type": "log", "domain": [0.000962, 101.4], "range": [17, 678], "nice": false}, "axis": null},
            "y": {"field": "y", "type": "quantitative", "scale": {"type": "log", "domain": [2.25e-7, 290], "range": [954, 547], "nice": false}, "axis": null},
            "text": {"field": "t"}
          }
        }
      ]
    },
    {
      "data": {"name": "depth"},
      "mark": {"type": "rule", "color": "#2a2a88", "strokeWidth": 1.4, "strokeDash": [5, 3]},
      "encoding": {
        "x": {"field": "R", "type": "quantitative", "scale": {"type": "log", "domain": [3.72e-7, 142.2], "range": [19, 679], "nice": false},
          "axis": {"orient": "bottom", "offset": 96, "values": [3.72e-7,0.000001,0.00001,0.0001,0.001,0.01,0.1,1,10,100,142.2],
            "labelExpr": "datum.value == 0.000001 ? '10⁻⁶' : datum.value == 0.0001 ? '10⁻⁴' : datum.value == 0.01 ? '10⁻²' : datum.value == 1 ? '1' : datum.value == 100 ? '100' : ''",
            "tickSize": {"condition": {"test": "indexof([0.000001,0.0001,0.01,1,100], datum.value) >= 0", "value": -7}, "signal": "datum.value < 0.000001 || datum.value > 101 ? -12 : -4"},
            "labelPadding": 31, "labelBaseline": "middle",
            "title": "R (μm)", "titleX": 344, "titleY": 70, "titleBaseline": "middle", "titleAlign": "center", "titleColor": "#111111", "titleFontSize": 27}},
        "y": {"datum": 0, "type": "quantitative", "scale": {"type": "linear", "domain": [0, 1], "range": [1050, 987], "nice": false, "zero": false}, "axis": null},
        "y2": {"datum": 1}
      }
    },
    {
      "data": {"name": "depth"},
      "mark": {"type": "text", "fontSize": 27, "color": "#111111", "align": "left", "baseline": "middle", "dx": 7},
      "encoding": {
        "x": {"field": "R", "type": "quantitative", "scale": {"type": "log", "domain": [3.72e-7, 142.2], "range": [19, 679], "nice": false}, "axis": null},
        "y": {"datum": 0.571, "type": "quantitative", "scale": {"type": "linear", "domain": [0, 1], "range": [1050, 987], "nice": false, "zero": false}, "axis": null},
        "text": {"field": "t"}
      }
    }
  ],
  "resolve": {"scale": {"x": "independent", "y": "independent"}, "axis": {"x": "independent", "y": "independent"}}
}
